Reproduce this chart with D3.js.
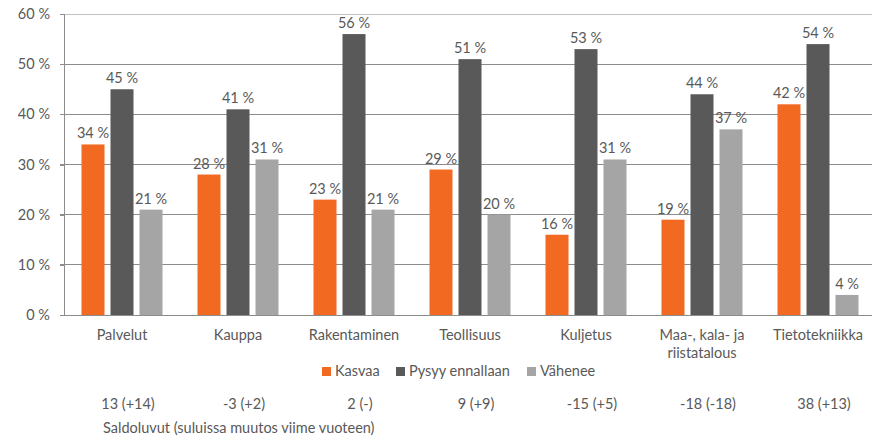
<!DOCTYPE html>
<html><head><meta charset="utf-8">
<script src="https://cdn.jsdelivr.net/npm/d3@7"></script>
<style>body{margin:0;background:#fff;} text{font-family:Lato,"Open Sans",sans-serif;fill:#595959;}</style>
</head><body><svg id="c" width="872" height="441"></svg>
<script>
const categories = [["Palvelut"],["Kauppa"],["Rakentaminen"],["Teollisuus"],["Kuljetus"],["Maa-, kala- ja","riistatalous"],["Tietotekniikka"]];
const seriesNames = ["Kasvaa","Pysyy ennallaan","Vähenee"];
const kasvaa = [34,28,23,29,16,19,42];
const pysyy = [45,41,56,51,53,44,54];
const vahenee = [21,31,21,20,31,37,4];
const saldo = ["13 (+14)","-3 (+2)","2 (-)","9 (+9)","-15 (+5)","-18 (-18)","38 (+13)"];
const saldoTitle = "Saldoluvut (suluissa muutos viime vuoteen)";
const yTicks = [0,10,20,30,40,50,60];
const colors = ["#f26a22","#595959","#a5a5a5"];
const FS = "14.5px";

const svg = d3.select("#c");
const values = [kasvaa,pysyy,vahenee];
const idx = d3.range(categories.length);
const x = d3.scaleBand().domain(idx).range([64,876]).padding(0);
const y = d3.scaleLinear().domain([0,60]).range([315,14]);
const xs = d3.scaleBand().domain(d3.range(3)).range([-43.5,43.5]).paddingInner(6/29).paddingOuter(3/29);

// gridlines
svg.append("g").selectAll("line").data(yTicks.filter(t=>t>0)).join("line")
  .attr("x1",60).attr("x2",876).attr("y1",d=>y(d)).attr("y2",d=>y(d))
  .attr("stroke",d=>d===60?"#c0c0c0":"#8c8c8c").attr("stroke-width",1)
  .attr("shape-rendering","crispEdges");

// y axis
const yAxis = d3.axisLeft(y).tickValues(yTicks).tickFormat(d=>d+" %").tickSize(4).tickPadding(10);
const ga = svg.append("g").attr("transform","translate(64,0)").call(yAxis);
ga.select(".domain").attr("stroke","#8c8c8c").attr("shape-rendering","crispEdges");
ga.selectAll(".tick line").attr("stroke","#8c8c8c").attr("shape-rendering","crispEdges");
ga.selectAll(".tick text").style("font-size",FS).attr("fill","#595959").attr("dx","0");

// bars
values.forEach((vals,s)=>{
  const g = svg.append("g");
  g.selectAll("rect").data(idx).join("rect")
    .attr("x",i=>x(i)+x.bandwidth()/2+xs(s))
    .attr("width",xs.bandwidth())
    .attr("y",i=>y(vals[i]))
    .attr("height",i=>y(0)-y(vals[i]))
    .attr("fill",colors[s]);
  g.selectAll("text").data(idx).join("text")
    .attr("x",i=>x(i)+x.bandwidth()/2+xs(s)+xs.bandwidth()/2)
    .attr("y",i=>y(vals[i])-6)
    .attr("text-anchor","middle").style("font-size",FS)
    .text(i=>vals[i]+" %");
});

// x axis line
svg.append("line").attr("x1",64).attr("x2",876).attr("y1",y(0)).attr("y2",y(0))
  .attr("stroke","#8c8c8c").attr("shape-rendering","crispEdges");

// category labels
const cl = svg.append("g").selectAll("text").data(idx).join("text")
  .attr("x",i=>x(i)+x.bandwidth()/2).attr("y",340)
  .attr("text-anchor","middle").style("font-size",FS);
cl.each(function(i){
  const t=d3.select(this);
  categories[i].forEach((line,k)=>t.append("tspan").attr("x",x(i)+x.bandwidth()/2).attr("dy",k===0?0:18).text(line));
});

// legend
const legX = [322,396,527];
const lg = svg.append("g");
seriesNames.forEach((n,s)=>{
  lg.append("rect").attr("x",legX[s]).attr("y",367).attr("width",9).attr("height",9).attr("fill",colors[s]);
  lg.append("text").attr("x",legX[s]+13).attr("y",376).style("font-size",FS).text(n);
});

// saldo row
svg.append("g").selectAll("text").data(idx).join("text")
  .attr("x",i=>x(i)+x.bandwidth()/2+6).attr("y",409)
  .attr("text-anchor","middle").style("font-size",FS).text(i=>saldo[i]);
svg.append("text").attr("x",103).attr("y",433).style("font-size",FS).text(saldoTitle);
</script></body></html>
